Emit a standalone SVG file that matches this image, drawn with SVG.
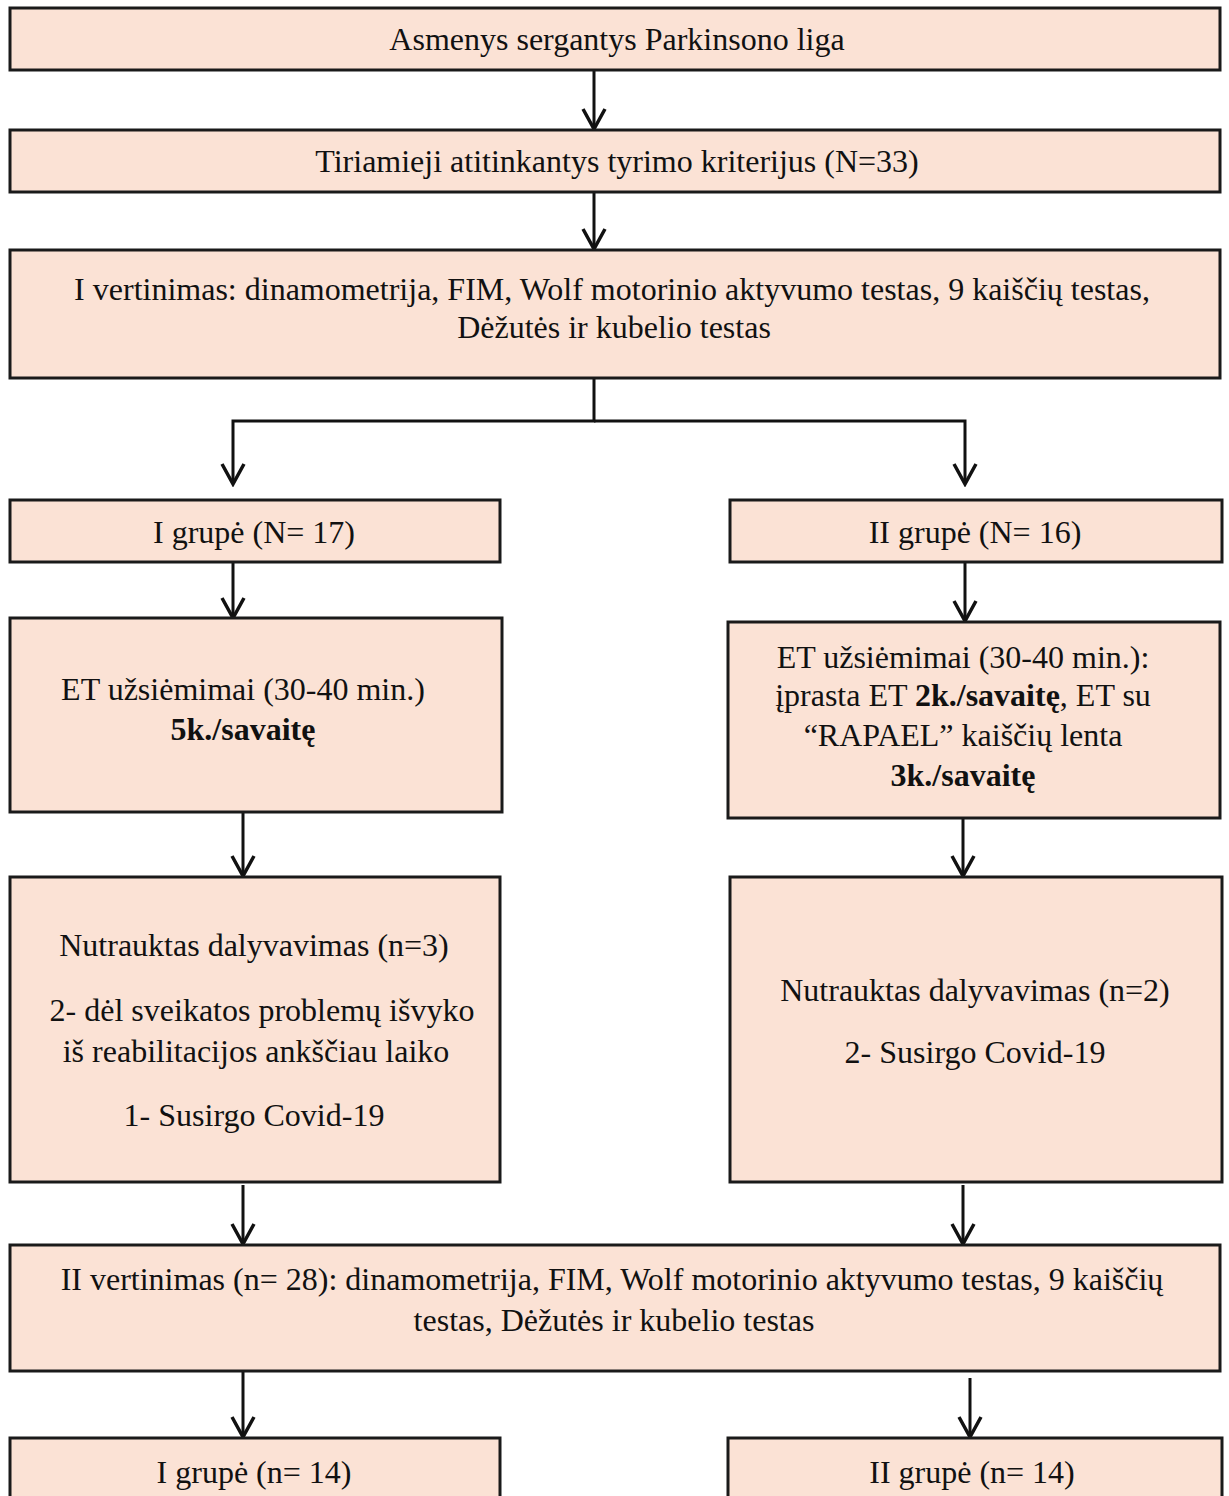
<svg xmlns="http://www.w3.org/2000/svg" width="1229" height="1496" viewBox="0 0 1229 1496">
<style>
.box{fill:#fbe2d5;stroke:#1a1a1a;stroke-width:3}
.t{font-family:"Liberation Serif","Times New Roman",serif;font-size:32px;fill:#111;text-anchor:middle}
.b{font-weight:bold}
.c{fill:none;stroke:#111;stroke-width:3}
</style>
<defs>
<marker id="ah" viewBox="0 0 26 26" markerWidth="26" markerHeight="26" refX="23" refY="13" orient="auto" markerUnits="userSpaceOnUse">
<path d="M3,2 L23,13 L3,24" fill="none" stroke="#111" stroke-width="3.5"/>
</marker>
</defs>
<rect width="1229" height="1496" fill="#fff"/>
<g id="connectors">
<line class="c" x1="594" y1="70" x2="594" y2="129" marker-end="url(#ah)"/>
<line class="c" x1="594" y1="192" x2="594" y2="249" marker-end="url(#ah)"/>
<path class="c" d="M594,378 V421 H233 V484" marker-end="url(#ah)"/>
<path class="c" d="M594,421 H965 V484" marker-end="url(#ah)"/>
<line class="c" x1="233" y1="562" x2="233" y2="618" marker-end="url(#ah)"/>
<line class="c" x1="965" y1="562" x2="965" y2="621" marker-end="url(#ah)"/>
<line class="c" x1="243" y1="812" x2="243" y2="876" marker-end="url(#ah)"/>
<line class="c" x1="963" y1="818" x2="963" y2="876" marker-end="url(#ah)"/>
<line class="c" x1="243" y1="1185" x2="243" y2="1244" marker-end="url(#ah)"/>
<line class="c" x1="963" y1="1185" x2="963" y2="1244" marker-end="url(#ah)"/>
<line class="c" x1="243" y1="1372" x2="243" y2="1437" marker-end="url(#ah)"/>
<line class="c" x1="970" y1="1378" x2="970" y2="1437" marker-end="url(#ah)"/>
</g>
<g id="n1"><rect class="box" x="10" y="8" width="1210" height="62"/><text class="t" x="617" y="50">Asmenys sergantys Parkinsono liga</text></g>
<g id="n2"><rect class="box" x="10" y="130" width="1210" height="62"/><text class="t" x="617" y="172">Tiriamieji atitinkantys tyrimo kriterijus (N=33)</text></g>
<g id="n3"><rect class="box" x="10" y="250" width="1210" height="128"/><text class="t" x="612" y="300">I vertinimas: dinamometrija, FIM, Wolf motorinio aktyvumo testas, 9 kaiščių testas,</text><text class="t" x="614" y="338">Dėžutės ir kubelio testas</text></g>
<g id="n4"><rect class="box" x="10" y="500" width="490" height="62"/><text class="t" x="254" y="543">I grupė (N= 17)</text></g>
<g id="n5"><rect class="box" x="730" y="500" width="492" height="62"/><text class="t" x="975" y="543">II grupė (N= 16)</text></g>
<g id="n6"><rect class="box" x="10" y="618" width="492" height="194"/><text class="t" x="243" y="700">ET užsiėmimai (30-40 min.)</text><text class="t b" x="243" y="740">5k./savaitę</text></g>
<g id="n7"><rect class="box" x="728" y="622" width="492" height="196"/><text class="t" x="963" y="668">ET užsiėmimai (30-40 min.):</text><text class="t" x="963" y="706">įprasta ET <tspan class="b">2k./savaitę</tspan>, ET su</text><text class="t" x="963" y="746">“RAPAEL” kaiščių lenta</text><text class="t b" x="963" y="786">3k./savaitę</text></g>
<g id="n8"><rect class="box" x="10" y="877" width="490" height="305"/><text class="t" x="254" y="956">Nutrauktas dalyvavimas (n=3)</text><text class="t" x="262" y="1021">2- dėl sveikatos problemų išvyko</text><text class="t" x="256" y="1062">iš reabilitacijos ankščiau laiko</text><text class="t" x="254" y="1126">1- Susirgo Covid-19</text></g>
<g id="n9"><rect class="box" x="730" y="877" width="492" height="305"/><text class="t" x="975" y="1001">Nutrauktas dalyvavimas (n=2)</text><text class="t" x="975" y="1063">2- Susirgo Covid-19</text></g>
<g id="n10"><rect class="box" x="10" y="1245" width="1210" height="126"/><text class="t" x="612" y="1290">II vertinimas (n= 28): dinamometrija, FIM, Wolf motorinio aktyvumo testas, 9 kaiščių</text><text class="t" x="614" y="1331">testas, Dėžutės ir kubelio testas</text></g>
<g id="n11"><rect class="box" x="10" y="1438" width="490" height="70"/><text class="t" x="254" y="1483">I grupė (n= 14)</text></g>
<g id="n12"><rect class="box" x="728" y="1438" width="494" height="70"/><text class="t" x="972" y="1483">II grupė (n= 14)</text></g>
</svg>
